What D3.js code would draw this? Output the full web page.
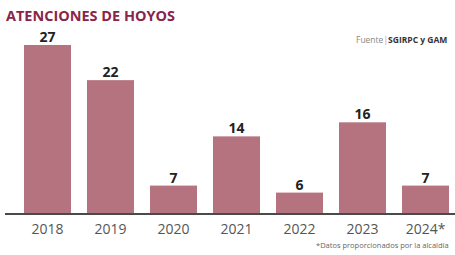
<!DOCTYPE html>
<html>
<head>
<meta charset="utf-8">
<script src="https://cdn.jsdelivr.net/npm/d3@7"></script>
<style>
  body { margin: 0; background: #fff; }
  svg { display: block; font-family: "Open Sans", sans-serif; }
</style>
</head>
<body>
<svg id="chart"></svg>
<script>
// data
const years = ["2018", "2019", "2020", "2021", "2022", "2023", "2024*"];
const counts = [27, 22, 7, 14, 6, 16, 7];

const width = 455, height = 255;
const baseY = 213;

const svg = d3.select("#chart")
    .attr("width", width)
    .attr("height", height);

// bars don't start at zero in the original, the axis floor sits around 3
const x = d3.scaleBand().domain(years).range([16, 457])
    .paddingInner(0.254).paddingOuter(0.127);
const y = d3.scaleLinear().domain([3.1, 27]).range([baseY, 45]);

// title
svg.append("text")
    .attr("x", 6).attr("y", 21)
    .attr("font-size", 15).attr("font-weight", 700)
    .attr("fill", "#8a2548")
    .attr("textLength", 169).attr("lengthAdjust", "spacingAndGlyphs")
    .text("ATENCIONES DE HOYOS");

// source (runs off the right edge like the original crop)
const src = svg.append("text")
    .attr("x", 356).attr("y", 43)
    .attr("font-size", 8.5).attr("fill", "#888");
src.append("tspan").text("Fuente");
src.append("tspan").attr("fill", "#c9899a").text("|");
src.append("tspan").attr("font-weight", 700).attr("fill", "#333").text("SGIRPC y GAM");

// bars
svg.selectAll("rect.bar")
    .data(counts)
    .enter()
    .append("rect")
    .attr("class", "bar")
    .attr("x", (d, i) => x(years[i]))
    .attr("y", d => y(d))
    .attr("width", x.bandwidth())
    .attr("height", d => baseY - y(d))
    .attr("fill", "#b5727f");

// value labels
svg.selectAll("text.val")
    .data(counts)
    .enter()
    .append("text")
    .attr("class", "val")
    .attr("x", (d, i) => x(years[i]) + x.bandwidth() / 2)
    .attr("y", d => y(d) - 3)
    .attr("text-anchor", "middle")
    .attr("font-size", 14).attr("font-weight", 700)
    .attr("fill", "#222")
    .text(d => d);

// x axis
const xAxis = svg.append("g")
    .attr("transform", `translate(0,${baseY})`)
    .call(d3.axisBottom(x).tickSize(0).tickPadding(11));
xAxis.select(".domain").remove();
xAxis.selectAll("text")
    .attr("font-size", 14)
    .attr("font-family", "Open Sans, sans-serif")
    .attr("fill", "#555");

svg.append("line")
    .attr("x1", 5).attr("x2", width)
    .attr("y1", baseY + 1).attr("y2", baseY + 1)
    .attr("stroke", "#4a4a4a").attr("stroke-width", 2);

// footnote
svg.append("text")
    .attr("x", 316).attr("y", 248)
    .attr("font-size", 7.5).attr("fill", "#666")
    .text("*Datos proporcionados por la alcaldía");
</script>
</body>
</html>
